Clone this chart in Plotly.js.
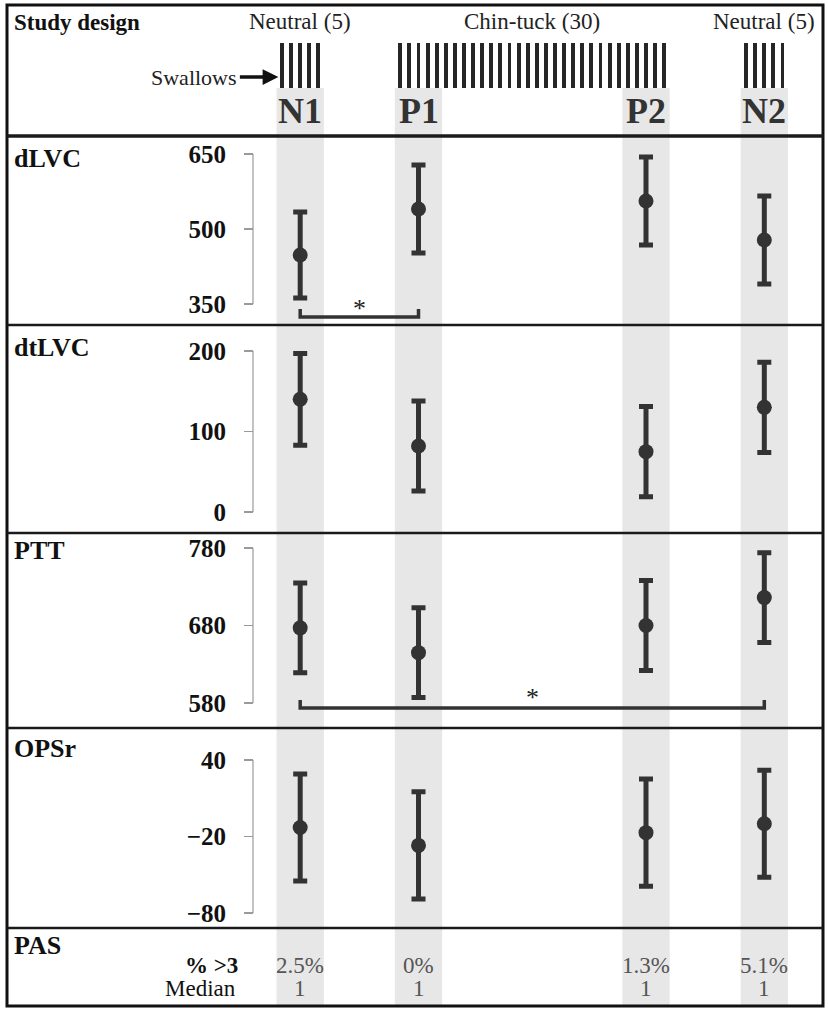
<!DOCTYPE html>
<html><head><meta charset="utf-8">
<script src="https://cdn.plot.ly/plotly-3.0.1.min.js"></script>
<style>html,body{margin:0;padding:0;background:#fff}#chart{width:828px;height:1011px}</style>
</head><body><div id="chart"></div>
<script>
// ---------------- data ----------------
const phaseNames = ['Neutral', 'Chin-tuck', 'Neutral'];
const phaseSwallows = [5, 30, 5];
const conditions = ['N1', 'P1', 'P2', 'N2'];
const conditionPhase = [0, 1, 1, 2];
const conditionFirstSwallow = [0, 0, 25, 0];
const conditionSwallowCount = 5;

const measures = ['dLVC', 'dtLVC', 'PTT', 'OPSr'];
const dLVCmean = [448, 540, 556, 478];
const dLVCsd = [86, 88, 88, 88];
const dtLVCmean = [140, 82, 75, 130];
const dtLVCsd = [57, 56, 56, 56];
const PTTmean = [677, 645, 680, 716];
const PTTsd = [58, 58, 58, 58];
const OPSrMean = [-13, -27, -17, -10];
const OPSrSd = [42, 42, 42, 42];

const dLVCticks = [350, 500, 650];
const dtLVCticks = [0, 100, 200];
const PTTticks = [580, 680, 780];
const OPSrTicks = [-80, -20, 40];

const PASpctOver3 = ['2.5%', '0%', '1.3%', '5.1%'];
const PASmedian = ['1', '1', '1', '1'];
const sigPairs = [
  {measure: 'dLVC', from: 'N1', to: 'P1'},
  {measure: 'PTT', from: 'N1', to: 'N2'}
];

// ---------------- layout helpers ----------------
const W = 828, H = 1011;
const FONT = 'Liberation Serif';
const fx = px => px / W;
const fy = px => 1 - px / H;
const phaseGap = 8;            // empty swallow slots between phases
const slotPx = 9.1, slot0Px = 282;

const phaseStart = [];
let s = 0;
phaseSwallows.forEach((n, i) => { phaseStart.push(s); s += n + phaseGap; });
const swallowSlots = [];
phaseSwallows.forEach((n, p) => { for (let i = 0; i < n; i++) swallowSlots.push(phaseStart[p] + i); });
const condX = conditions.map((c, i) => phaseStart[conditionPhase[i]] + conditionFirstSwallow[i] + (conditionSwallowCount - 1) / 2);
const phaseCenter = phaseSwallows.map((n, p) => phaseStart[p] + (n - 1) / 2);

const meanData = {dLVC: dLVCmean, dtLVC: dtLVCmean, PTT: PTTmean, OPSr: OPSrMean};
const sdData = {dLVC: dLVCsd, dtLVC: dtLVCsd, PTT: PTTsd, OPSr: OPSrSd};
const tickData = {dLVC: dLVCticks, dtLVC: dtLVCticks, PTT: PTTticks, OPSr: OPSrTicks};
const panelPx = {dLVC: [136, 325], dtLVC: [325, 533], PTT: [533, 728], OPSr: [728, 928]};
const tickPx = {dLVC: [154, 304], dtLVC: [351, 512], PTT: [548, 703], OPSr: [760, 913]};
const labelPy = {dLVC: 158, dtLVC: 347, PTT: 550, OPSr: 748};
const axisXpx = 253;

const ax = {};
measures.forEach(m => {
  const t = tickData[m];
  const tTop = Math.max(...t), tBot = Math.min(...t);
  const [pTop, pBot] = tickPx[m];
  const [panTop, panBot] = panelPx[m];
  const k = (pBot - pTop) / (tTop - tBot);
  ax[m] = {
    range: [tBot - (panBot - pBot) / k, tTop + (pTop - panTop) / k],
    domain: [fy(panBot), fy(panTop)],
    val: px => tTop - (px - pTop) / k,
    tTop, tBot
  };
});

// ---------------- traces ----------------
const traces = [];
measures.forEach((m, i) => {
  traces.push({
    type: 'scatter', mode: 'markers',
    x: condX, y: meanData[m],
    xaxis: 'x', yaxis: 'y' + (i + 2),
    marker: {size: 15, color: '#333333'},
    error_y: {type: 'data', array: sdData[m], visible: true, thickness: 5, width: 7, color: '#333333'},
    cliponaxis: false, hoverinfo: 'skip', showlegend: false
  });
});
traces.push({
  type: 'bar', x: swallowSlots, y: swallowSlots.map(() => 1),
  xaxis: 'x', yaxis: 'y6', width: 0.42,
  marker: {color: '#262626', line: {width: 0}},
  hoverinfo: 'skip', showlegend: false
});

// ---------------- layout ----------------
const layout = {
  width: W, height: H,
  margin: {l: 0, r: 0, t: 0, b: 0},
  paper_bgcolor: '#ffffff', plot_bgcolor: 'rgba(0,0,0,0)',
  showlegend: false,
  bargap: 0,
  font: {family: FONT},
  xaxis: {range: [-slot0Px / slotPx, (W - slot0Px) / slotPx], visible: false, fixedrange: true},
  yaxis6: {domain: [fy(88), fy(43)], range: [0, 1], visible: false},
  shapes: [], annotations: []
};
measures.forEach((m, i) => {
  layout['yaxis' + (i + 2)] = {
    domain: ax[m].domain, range: ax[m].range,
    anchor: 'free', position: fx(axisXpx),
    showgrid: false, zeroline: false, showline: false,
    tickmode: 'array', tickvals: tickData[m],
    ticks: 'outside', ticklen: 9, tickwidth: 1.2, tickcolor: '#9a9a9a',
    ticklabelstandoff: 13,
    tickfont: {family: FONT, size: 25, color: '#111', weight: 'bold'}
  };
  layout.shapes.push({type: 'line', xref: 'paper', yref: 'y' + (i + 2),
    x0: fx(axisXpx), x1: fx(axisXpx), y0: ax[m].tBot, y1: ax[m].tTop,
    line: {color: '#9a9a9a', width: 1.2}});
  layout.annotations.push({xref: 'paper', yref: 'paper', x: fx(12), y: fy(labelPy[m]),
    xanchor: 'left', yanchor: 'middle', text: '<b>' + m + '</b>', showarrow: false,
    font: {family: FONT, size: 26, color: '#111'}});
});

// grey bands
condX.forEach(c => {
  layout.shapes.push({type: 'rect', xref: 'x', yref: 'paper', layer: 'below',
    x0: c - 2.6, x1: c + 2.6, y0: fy(1005), y1: fy(88),
    fillcolor: '#e7e7e7', line: {width: 0}});
});

// significance brackets
sigPairs.forEach(sp => {
  const i = measures.indexOf(sp.measure);
  const a = ax[sp.measure];
  const x0 = condX[conditions.indexOf(sp.from)], x1 = condX[conditions.indexOf(sp.to)];
  const base = tickPx[sp.measure][1];
  const yLine = a.val(base + (sp.measure === 'dLVC' ? 13 : 5));
  const yEnd = a.val(base + (sp.measure === 'dLVC' ? 5 : -3));
  layout.shapes.push({type: 'path', xref: 'x', yref: 'y' + (i + 2),
    path: `M ${x0},${yEnd} L ${x0},${yLine} L ${x1},${yLine} L ${x1},${yEnd}`,
    line: {color: '#333', width: 3.5}});
  layout.annotations.push({xref: 'x', yref: 'y' + (i + 2), x: (x0 + x1) / 2,
    y: a.val(base + (sp.measure === 'dLVC' ? 4 : -6)),
    text: '*', showarrow: false, xanchor: 'center', yanchor: 'middle',
    font: {family: FONT, size: 26, color: '#222'}});
});

// border & dividers
layout.shapes.push({type: 'rect', xref: 'paper', yref: 'paper',
  x0: fx(7), x1: fx(823), y0: fy(1006), y1: fy(5), line: {color: '#111', width: 3}});
[[136, 3.5], [325, 2.5], [533, 2.5], [728, 2.5], [928, 2.5]].forEach(([py, w]) => {
  layout.shapes.push({type: 'line', xref: 'paper', yref: 'paper',
    x0: fx(7), x1: fx(823), y0: fy(py), y1: fy(py), line: {color: '#1a1a1a', width: w}});
});

// header texts
layout.annotations.push({xref: 'paper', yref: 'paper', x: fx(12), y: fy(22),
  xanchor: 'left', yanchor: 'middle', text: '<b>Study design</b>', showarrow: false,
  font: {family: FONT, size: 23, color: '#111'}});
phaseNames.forEach((n, p) => {
  layout.annotations.push({xref: 'x', yref: 'paper', x: phaseCenter[p], y: fy(21),
    xanchor: 'center', yanchor: 'middle', text: n + ' (' + phaseSwallows[p] + ')', showarrow: false,
    font: {family: FONT, size: 23, color: '#222'}});
});
layout.annotations.push({xref: 'x', yref: 'paper', x: -0.4, y: fy(77),
  text: 'Swallows', showarrow: true, arrowhead: 2, arrowsize: 0.9, arrowwidth: 3.5, arrowcolor: '#111',
  ax: -84, ay: 0, standoff: 0, startstandoff: 1,
  font: {family: FONT, size: 22, color: '#222'}});
conditions.forEach((c, i) => {
  layout.annotations.push({xref: 'x', yref: 'paper', x: condX[i], y: fy(111),
    xanchor: 'center', yanchor: 'middle', text: '<b>' + c + '</b>', showarrow: false,
    font: {family: FONT, size: 36, color: '#333'}});
});

// PAS row
layout.annotations.push({xref: 'paper', yref: 'paper', x: fx(12), y: fy(945),
  xanchor: 'left', yanchor: 'middle', text: '<b>PAS</b>', showarrow: false,
  font: {family: FONT, size: 26, color: '#111'}});
layout.annotations.push({xref: 'paper', yref: 'paper', x: fx(240), y: fy(965),
  xanchor: 'right', yanchor: 'middle', text: '<b>% >3</b>', showarrow: false,
  font: {family: FONT, size: 23, color: '#111'}});
layout.annotations.push({xref: 'paper', yref: 'paper', x: fx(238), y: fy(988),
  xanchor: 'right', yanchor: 'middle', text: 'Median', showarrow: false,
  font: {family: FONT, size: 23, color: '#111'}});
conditions.forEach((c, i) => {
  layout.annotations.push({xref: 'x', yref: 'paper', x: condX[i], y: fy(965),
    xanchor: 'center', yanchor: 'middle', text: PASpctOver3[i], showarrow: false,
    font: {family: FONT, size: 23, color: '#555'}});
  layout.annotations.push({xref: 'x', yref: 'paper', x: condX[i], y: fy(988),
    xanchor: 'center', yanchor: 'middle', text: PASmedian[i], showarrow: false,
    font: {family: FONT, size: 23, color: '#555'}});
});

Plotly.newPlot('chart', traces, layout, {displayModeBar: false, staticPlot: true});
</script>
</body></html>
